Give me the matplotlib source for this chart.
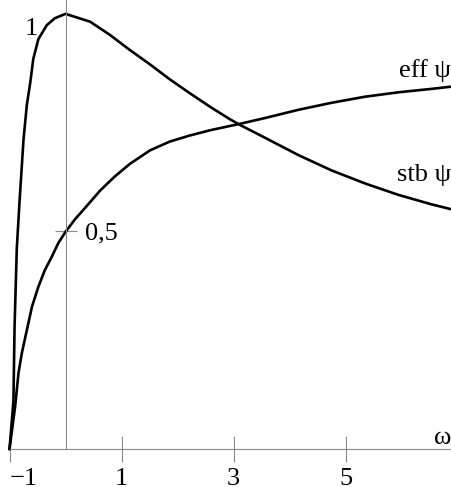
import matplotlib.pyplot as plt

plt.rcParams['font.family'] = ['Liberation Serif', 'DejaVu Serif']

# stability curve (rises steeply, peaks at omega = 0, then falls)
stb_x = [-1.0, -0.93, -0.91, -0.87, -0.82, -0.75, -0.69, -0.63, -0.575, -0.485,
         -0.335, -0.19, 0.0, 0.44, 0.79, 1.15, 1.51, 1.86, 2.22, 2.58,
         2.94, 3.12, 3.56, 4.16, 4.75, 5.35, 5.94, 6.54, 6.884]
stb_y = [0.0, 0.11, 0.28, 0.46, 0.57, 0.71, 0.79, 0.84, 0.895, 0.94,
         0.972, 0.988, 0.998, 0.98, 0.95, 0.915, 0.882, 0.848, 0.816, 0.785,
         0.756, 0.743, 0.714, 0.674, 0.639, 0.609, 0.583, 0.561, 0.550]

# efficiency curve (monotone rise)
eff_x = [-1.0, -0.90, -0.84, -0.78, -0.69, -0.60, -0.485, -0.37, -0.245, -0.13,
         0.0, 0.17, 0.35, 0.62, 0.88, 1.15, 1.51, 1.86, 2.22, 2.58,
         2.94, 3.12, 3.56, 4.16, 4.75, 5.35, 5.94, 6.54, 6.884]
eff_y = [0.0, 0.097, 0.174, 0.22, 0.273, 0.326, 0.372, 0.41, 0.441, 0.472,
         0.498, 0.527, 0.553, 0.593, 0.625, 0.654, 0.685, 0.705, 0.719, 0.731,
         0.741, 0.746, 0.759, 0.778, 0.794, 0.808, 0.818, 0.826, 0.831]

xticks = [-1, 1, 3, 5]
xtick_labels = ['\u22121', '1', '3', '5']
yticks = [0.5]
ytick_labels = ['0,5']

axis_color = '#8a8a8a'
fs = 19

fig = plt.figure(figsize=(4.51, 4.87), dpi=100)
ax = fig.add_axes([0, 0, 1, 1])
ax.set_xlim(-1.17, 6.884)
ax.set_ylim(-0.0872, 1.0298)

ax.plot(stb_x, stb_y, color='black', lw=1.9, solid_joinstyle='round')
ax.plot(eff_x, eff_y, color='black', lw=1.9, solid_joinstyle='round')

# axes through the origin
for side in ['top', 'left']:
    ax.spines[side].set_visible(False)
ax.spines['bottom'].set_position(('data', 0))
ax.spines['bottom'].set_bounds(-1.0, 6.884)
ax.spines['right'].set_position(('data', 0))
ax.spines['right'].set_bounds(0, 1.0298)
for side in ['bottom', 'right']:
    ax.spines[side].set_color(axis_color)
    ax.spines[side].set_linewidth(0.8)

ax.set_xticks(xticks)
ax.set_xticklabels(xtick_labels)
ax.yaxis.tick_right()
ax.set_yticks(yticks)
ax.set_yticklabels(ytick_labels)
ax.tick_params(axis='x', direction='inout', length=19, width=0.8,
               color=axis_color, labelsize=fs, pad=4)
ax.tick_params(axis='y', direction='inout', length=16, width=0.8,
               color=axis_color, labelsize=fs, pad=6)
labels = ax.get_xticklabels()
labels[0].set_ha('left')

ax.text(-0.616, 0.95, '1', fontsize=fs, ha='center', va='baseline')
ax.text(6.884, 0.0, '\u03c9', fontsize=fs, ha='right', va='bottom')
ax.text(6.884, 0.853, 'eff \u03c8', fontsize=fs, ha='right', va='baseline')
ax.text(6.884, 0.615, 'stb \u03c8', fontsize=fs, ha='right', va='baseline')

fig.savefig('out.png', dpi=100)
